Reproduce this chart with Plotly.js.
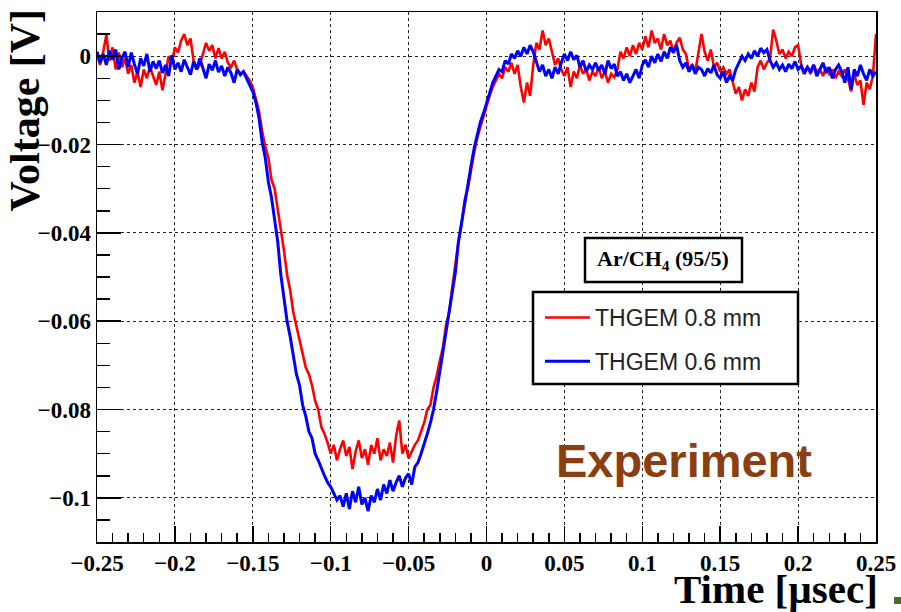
<!DOCTYPE html>
<html>
<head>
<meta charset="utf-8">
<script src="https://cdn.plot.ly/plotly-3.0.1.min.js"></script>
<style>html,body{margin:0;padding:0;background:#fff;}#chart{width:901px;height:612px;}</style>
</head>
<body>
<div id="chart"></div>
<script>
// Sampling of the waveforms (µs)
const timeStart = -0.25;
const timeStep = 0.002;

// Voltage [V], THGEM 0.6 mm (blue)
const voltage06 = [
 0.0010,-0.0015,0.0005,-0.0020,0.0012,-0.0008,0.0015,-0.0030,-0.0005,0.0010,
 -0.0025,0.0008,-0.0018,-0.0040,-0.0005,-0.0022,0.0005,-0.0035,-0.0012,-0.0028,
 -0.0010,-0.0038,-0.0020,-0.0045,0.0002,-0.0030,-0.0015,-0.0035,-0.0008,-0.0026,
 -0.0042,-0.0012,-0.0030,-0.0005,-0.0028,-0.0050,-0.0018,-0.0032,-0.0010,-0.0036,
 -0.0022,-0.0045,-0.0025,-0.0038,-0.0060,-0.0030,-0.0042,-0.0035,-0.0050,-0.0065,
 -0.0080,-0.0105,-0.0140,-0.0195,-0.0230,-0.0285,-0.0320,-0.0370,-0.0420,-0.0495,
 -0.0545,-0.0600,-0.0635,-0.0680,-0.0720,-0.0745,-0.0790,-0.0815,-0.0850,-0.0865,
 -0.0900,-0.0915,-0.0935,-0.0950,-0.0965,-0.0975,-0.0990,-0.1005,-0.0995,-0.1020,
 -0.0990,-0.1025,-0.0985,-0.1010,-0.0975,-0.1015,-0.1000,-0.1030,-0.0995,-0.1010,
 -0.0980,-0.1005,-0.0970,-0.0990,-0.0960,-0.0985,-0.0965,-0.0950,-0.0975,-0.0955,
 -0.0945,-0.0970,-0.0930,-0.0920,-0.0900,-0.0880,-0.0855,-0.0830,-0.0800,-0.0760,
 -0.0715,-0.0680,-0.0635,-0.0590,-0.0540,-0.0490,-0.0420,-0.0375,-0.0330,-0.0295,
 -0.0250,-0.0210,-0.0180,-0.0150,-0.0130,-0.0105,-0.0080,-0.0060,-0.0045,-0.0030,
 -0.0035,-0.0010,-0.0018,0.0005,-0.0005,0.0012,0.0000,0.0020,0.0005,0.0025,
 0.0010,-0.0015,-0.0035,-0.0020,-0.0045,-0.0030,-0.0050,-0.0025,-0.0040,-0.0015,
 0.0005,-0.0010,0.0010,-0.0008,0.0002,-0.0025,-0.0010,-0.0035,-0.0020,-0.0030,
 -0.0015,-0.0032,-0.0020,-0.0040,-0.0010,-0.0028,-0.0018,-0.0045,-0.0035,-0.0055,
 -0.0040,-0.0060,-0.0045,-0.0030,-0.0050,-0.0020,-0.0008,-0.0025,0.0000,-0.0015,
 0.0005,-0.0012,0.0010,-0.0005,0.0020,0.0008,0.0025,-0.0010,-0.0025,-0.0015,
 -0.0035,-0.0020,-0.0040,-0.0025,-0.0030,-0.0045,-0.0028,-0.0038,-0.0020,-0.0042,
 -0.0050,-0.0035,-0.0060,-0.0045,-0.0055,-0.0030,-0.0015,0.0000,-0.0010,0.0005,
 -0.0005,0.0012,0.0000,0.0018,0.0008,0.0015,-0.0010,-0.0025,-0.0015,-0.0030,
 -0.0020,-0.0035,-0.0018,-0.0028,-0.0012,-0.0030,-0.0022,-0.0040,-0.0025,-0.0035,
 -0.0020,-0.0045,-0.0030,-0.0015,-0.0038,-0.0025,-0.0050,-0.0030,-0.0020,-0.0035,
 -0.0060,-0.0025,-0.0075,-0.0030,-0.0045,-0.0020,-0.0040,-0.0055,-0.0030,-0.0045,-0.0035
];

// Voltage [V], THGEM 0.8 mm (red)
const voltage08 = [
 0.0005,-0.0020,0.0010,0.0048,-0.0010,0.0020,-0.0030,0.0008,-0.0025,-0.0005,
 -0.0040,-0.0020,-0.0060,-0.0035,-0.0070,-0.0030,-0.0050,-0.0025,-0.0045,-0.0065,
 -0.0035,-0.0077,-0.0040,0.0000,-0.0015,0.0020,0.0008,0.0035,0.0050,0.0025,
 0.0040,-0.0010,-0.0030,-0.0020,0.0005,0.0030,0.0012,0.0025,-0.0005,0.0018,
 -0.0005,0.0010,-0.0015,-0.0025,-0.0010,-0.0030,-0.0040,-0.0035,-0.0045,-0.0055,
 -0.0070,-0.0100,-0.0125,-0.0170,-0.0205,-0.0230,-0.0280,-0.0300,-0.0345,-0.0385,
 -0.0440,-0.0495,-0.0530,-0.0580,-0.0610,-0.0640,-0.0670,-0.0705,-0.0720,-0.0745,
 -0.0780,-0.0800,-0.0840,-0.0855,-0.0875,-0.0900,-0.0880,-0.0915,-0.0890,-0.0870,
 -0.0905,-0.0885,-0.0935,-0.0895,-0.0870,-0.0910,-0.0890,-0.0925,-0.0880,-0.0900,
 -0.0865,-0.0915,-0.0890,-0.0905,-0.0875,-0.0920,-0.0860,-0.0825,-0.0900,-0.0880,
 -0.0910,-0.0895,-0.0880,-0.0870,-0.0850,-0.0830,-0.0800,-0.0790,-0.0750,-0.0725,
 -0.0690,-0.0660,-0.0610,-0.0580,-0.0525,-0.0470,-0.0420,-0.0380,-0.0325,-0.0300,
 -0.0255,-0.0220,-0.0185,-0.0160,-0.0135,-0.0115,-0.0090,-0.0070,-0.0055,-0.0040,
 -0.0050,-0.0025,-0.0035,-0.0015,-0.0040,-0.0020,-0.0070,-0.0105,-0.0060,-0.0090,
 -0.0020,0.0030,0.0015,0.0058,0.0025,0.0040,0.0010,-0.0020,-0.0005,-0.0030,
 -0.0045,-0.0025,-0.0070,-0.0035,-0.0050,-0.0020,-0.0040,-0.0030,-0.0055,-0.0035,
 -0.0045,-0.0025,-0.0050,-0.0035,-0.0060,-0.0040,-0.0048,-0.0030,0.0010,-0.0005,
 0.0020,0.0000,0.0025,0.0005,0.0030,0.0015,0.0045,0.0020,0.0058,0.0030,
 0.0040,0.0015,0.0050,0.0025,0.0035,0.0010,0.0030,0.0042,0.0015,0.0005,
 -0.0030,-0.0020,-0.0035,0.0005,0.0050,0.0010,-0.0010,0.0015,-0.0025,-0.0015,
 -0.0035,-0.0025,-0.0040,-0.0030,-0.0060,-0.0085,-0.0070,-0.0100,-0.0075,-0.0090,
 -0.0060,-0.0080,-0.0025,-0.0010,-0.0030,-0.0015,-0.0005,0.0060,0.0035,0.0005,
 0.0015,-0.0005,0.0010,0.0000,0.0020,0.0025,-0.0020,-0.0035,-0.0025,-0.0040,
 -0.0020,-0.0035,-0.0030,-0.0045,-0.0025,-0.0040,-0.0030,-0.0050,-0.0035,-0.0045,
 -0.0030,-0.0050,-0.0080,-0.0040,-0.0065,-0.0055,-0.0110,-0.0060,-0.0075,-0.0045,0.0050
];

const seriesNames = ['THGEM 0.8 mm', 'THGEM 0.6 mm'];
const seriesColors = ['#ff0000', '#0000ff'];
const xTitle = 'Time [µsec]';
const yTitle = 'Voltage [V]';
const gasLabel = 'Ar/CH<sub>4</sub> (95/5)';
const stampLabel = 'Experiment';

const traces = [
  {type:'scatter', mode:'lines', name:seriesNames[0], legendgroup:'g1', x0:timeStart, dx:timeStep, y:voltage08,
   line:{color:seriesColors[0], width:2.6}},
  {type:'scatter', mode:'lines', name:seriesNames[1], legendgroup:'g2', x0:timeStart, dx:timeStep, y:voltage06,
   line:{color:seriesColors[1], width:3}}
];

const serif = {family:'Liberation Serif, Times New Roman, serif', weight:'bold', color:'#000'};

const layout = {
  width:901, height:612,
  margin:{l:97, r:25, t:12, b:70},
  paper_bgcolor:'#fff', plot_bgcolor:'#fff',
  showlegend:true,
  legend:{x:(540-97)/779, y:(542-296)/530, xanchor:'left', yanchor:'top', bgcolor:'rgba(0,0,0,0)', borderwidth:0,
          font:{family:'Liberation Sans, Arial, sans-serif', size:23, color:'#222'},
          itemwidth:45, tracegroupgap:11},
  xaxis:{range:[-0.25,0.25], tick0:-0.25, dtick:0.05, ticks:'inside', ticklen:16, tickwidth:1.5,
         tickcolor:'#000', showline:true, mirror:true, linecolor:'#000', linewidth:1.5,
         showgrid:true, gridcolor:'#222', griddash:'dot', gridwidth:1, zeroline:false,
         tickfont:Object.assign({size:23}, serif),
         minor:{dtick:0.01, ticks:'inside', ticklen:9, tickwidth:1.5, tickcolor:'#000', showgrid:false}},
  yaxis:{range:[-0.11,0.01], tick0:0, dtick:0.02, ticks:'inside', ticklen:24, tickwidth:1.5,
         tickcolor:'#000', showline:true, mirror:true, linecolor:'#000', linewidth:1.5,
         showgrid:true, gridcolor:'#222', griddash:'dot', gridwidth:1, zeroline:false,
         tickfont:Object.assign({size:23}, serif),
         minor:{dtick:0.005, ticks:'inside', ticklen:13, tickwidth:1.5, tickcolor:'#000', showgrid:false}},
  shapes:[
    // legend frame
    {type:'rect', xref:'paper', yref:'paper', x0:(533-97)/779, x1:(798-97)/779,
     y0:(542-384)/530, y1:(542-292)/530, line:{color:'#000', width:2.5}, fillcolor:'#fff', layer:'above'},
    // gas label frame
    {type:'rect', xref:'paper', yref:'paper', x0:(585-97)/779, x1:(742-97)/779,
     y0:(542-282)/530, y1:(542-238)/530, line:{color:'#000', width:2.5}, fillcolor:'#fff', layer:'above'},
    // small green mark bottom right
    {type:'rect', xref:'paper', yref:'paper', x0:(894-97)/779, x1:(901-97)/779,
     y0:(542-604)/530, y1:(542-597)/530, line:{width:0}, fillcolor:'#4b6b2b'}
  ],
  annotations:[
    {xref:'paper', yref:'paper', x:(879-97)/779, y:(542-589)/530, xanchor:'right', yanchor:'middle', showarrow:false,
     borderpad:0, text:xTitle, font:Object.assign({size:41}, serif)},
    {xref:'paper', yref:'paper', x:(24-97)/779, y:(542-8)/530, xanchor:'center', yanchor:'top', showarrow:false,
     borderpad:0, textangle:-90, text:yTitle, font:Object.assign({size:42}, serif)},
    {xref:'paper', yref:'paper', x:(663-97)/779, y:(542-260)/530, xanchor:'center', yanchor:'middle', showarrow:false,
     text:gasLabel, font:Object.assign({size:22}, serif)},
    {xref:'paper', yref:'paper', x:(684-97)/779, y:(542-460)/530, xanchor:'center', yanchor:'middle', showarrow:false,
     text:stampLabel, font:{family:'Liberation Sans, Arial, sans-serif', size:47, weight:'bold', color:'#8b3e10'}}
  ]
};

Plotly.newPlot('chart', traces, layout, {staticPlot:true, displayModeBar:false});
</script>
</body>
</html>
